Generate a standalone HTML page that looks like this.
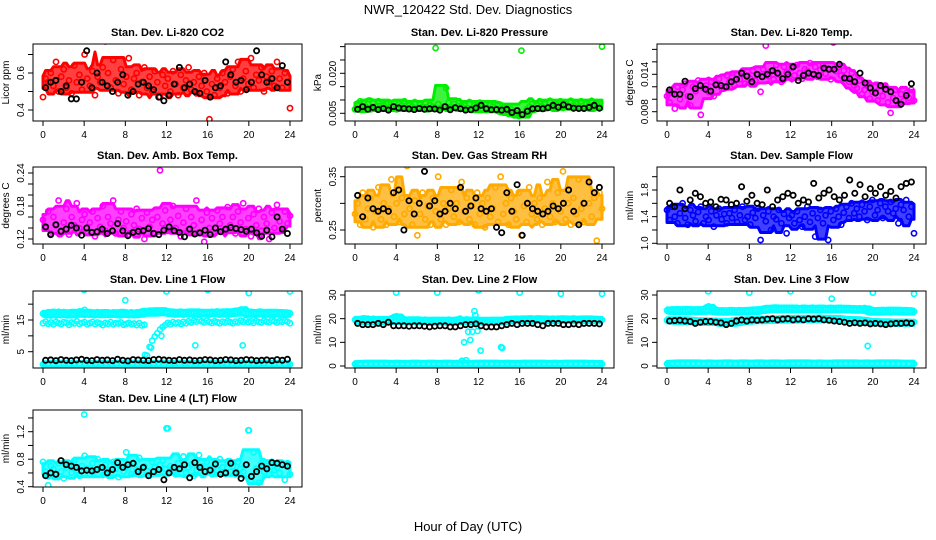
<!DOCTYPE html>
<html><head><meta charset="utf-8">
<style>
html,body{margin:0;padding:0;background:#fff;}
svg{display:block;font-family:"Liberation Sans",sans-serif;}
</style></head>
<body>
<svg id="chart" width="936" height="540" viewBox="0 0 936 540" xmlns="http://www.w3.org/2000/svg">
<rect width="936" height="540" fill="#fff"/>
<text x="468" y="14" text-anchor="middle" font-size="13">NWR_120422 Std. Dev. Diagnostics</text>
<text x="468" y="531" text-anchor="middle" font-size="13">Hour of Day (UTC)</text>
</svg>
<script>
const xTicks = [0,4,8,12,16,20,24];
const co2Red = [0.47,0.57,0.55,0.60,0.53,0.66,0.50,0.58,0.62,0.52,0.56,0.49,0.64,0.55,0.59,0.51,0.70,0.57,0.53,0.61,0.48,0.58,0.55,0.63,0.77,0.60,0.52,0.67,0.56,0.49,0.62,0.54,0.58,0.68,0.51,0.57,0.60,0.48,0.55,0.63,0.52,0.58,0.50,0.61,0.55,0.47,0.59,0.53,0.57,0.50,0.61,0.54,0.48,0.59,0.52,0.56,0.63,0.51,0.55,0.49,0.58,0.53,0.60,0.50,0.35,0.54,0.48,0.57,0.52,0.60,0.55,0.49,0.58,0.62,0.53,0.66,0.50,0.57,0.61,0.54,0.68,0.52,0.59,0.56,0.63,0.50,0.58,0.55,0.61,0.53,0.66,0.57,0.52,0.60,0.55,0.41];
const co2Black = [0.52,0.55,0.56,0.50,0.53,0.46,0.46,0.55,0.72,0.52,0.60,0.55,0.53,0.50,0.55,0.59,0.48,0.50,0.54,0.55,0.53,0.51,0.47,0.45,0.48,0.54,0.63,0.52,0.54,0.50,0.49,0.56,0.47,0.52,0.53,0.66,0.59,0.55,0.56,0.51,0.55,0.72,0.59,0.55,0.57,0.52,0.64,0.55];
const presGreen = [0.0065,0.008,0.0095,0.007,0.0075,0.0085,0.0065,0.009,0.0075,0.0095,0.007,0.008,0.0085,0.007,0.0075,0.009,0.0065,0.0085,0.008,0.0095,0.007,0.008,0.0075,0.0085,0.007,0.0085,0.0075,0.009,0.0065,0.008,0.0075,0.0295,0.0085,0.007,0.0075,0.0145,0.009,0.0075,0.0085,0.007,0.0095,0.0075,0.008,0.007,0.0085,0.0065,0.008,0.0075,0.009,0.0065,0.0085,0.007,0.008,0.0075,0.0065,0.0085,0.0055,0.007,0.0075,0.006,0.0065,0.0055,0.005,0.004,0.0285,0.0045,0.0065,0.0075,0.0085,0.007,0.008,0.0095,0.0075,0.0085,0.007,0.009,0.0075,0.0085,0.008,0.0095,0.007,0.0085,0.0075,0.009,0.008,0.0085,0.0075,0.0095,0.007,0.0085,0.008,0.009,0.0075,0.0085,0.007,0.030];
const presBlack = [0.0065,0.0075,0.0065,0.0072,0.0064,0.0068,0.0062,0.0075,0.007,0.0068,0.0066,0.0064,0.0068,0.0065,0.0067,0.0066,0.0062,0.0075,0.0063,0.0071,0.0067,0.0062,0.0063,0.0070,0.0080,0.0067,0.0063,0.0064,0.0062,0.0065,0.0053,0.0060,0.0045,0.0058,0.0067,0.0068,0.0067,0.0071,0.0080,0.0073,0.0082,0.0074,0.0069,0.0068,0.0068,0.0072,0.0080,0.0069];
const tempMag = [0.0105,0.0095,0.011,0.0085,0.012,0.010,0.0115,0.0125,0.0105,0.009,0.012,0.0113,0.013,0.0075,0.0118,0.0122,0.0112,0.0128,0.0105,0.0125,0.0133,0.0118,0.012,0.0138,0.0128,0.0135,0.0122,0.014,0.0132,0.0145,0.0125,0.0138,0.0133,0.0146,0.013,0.014,0.0112,0.0148,0.0186,0.0137,0.0145,0.0132,0.0155,0.014,0.0128,0.0152,0.0143,0.0136,0.015,0.0138,0.0155,0.0142,0.0133,0.0148,0.0145,0.0158,0.014,0.0152,0.0136,0.0147,0.0155,0.0141,0.0149,0.0132,0.0191,0.0145,0.0152,0.0138,0.0146,0.0133,0.0128,0.0142,0.0122,0.0118,0.013,0.0108,0.0115,0.0125,0.0101,0.0112,0.012,0.0098,0.0113,0.0105,0.0122,0.0095,0.0078,0.0102,0.0115,0.0092,0.0108,0.0097,0.011,0.0102,0.0115,0.0098];
const tempBlack = [0.0115,0.0108,0.0108,0.0129,0.0104,0.0117,0.0122,0.0116,0.0113,0.0123,0.0122,0.0120,0.0128,0.0132,0.0142,0.0137,0.0128,0.0140,0.0136,0.0140,0.0146,0.0142,0.0133,0.0140,0.0152,0.0130,0.0138,0.0142,0.0140,0.0138,0.0150,0.0148,0.0148,0.0156,0.0134,0.0133,0.0128,0.0142,0.0126,0.0118,0.0110,0.0122,0.0116,0.0112,0.0098,0.0092,0.0106,0.0125];
const ambMag = [0.155,0.14,0.17,0.13,0.16,0.145,0.19,0.135,0.15,0.175,0.128,0.16,0.145,0.185,0.14,0.155,0.165,0.132,0.15,0.17,0.125,0.158,0.142,0.18,0.135,0.16,0.148,0.19,0.13,0.155,0.17,0.14,0.152,0.128,0.165,0.145,0.175,0.138,0.158,0.12,0.168,0.142,0.155,0.13,0.16,0.245,0.148,0.172,0.135,0.155,0.18,0.14,0.162,0.125,0.15,0.175,0.138,0.16,0.145,0.19,0.132,0.155,0.115,0.168,0.14,0.158,0.13,0.172,0.148,0.16,0.136,0.178,0.145,0.16,0.13,0.17,0.15,0.185,0.138,0.158,0.125,0.165,0.145,0.175,0.135,0.16,0.148,0.12,0.168,0.14,0.182,0.152,0.135,0.17,0.148,0.162];
const ambBlack = [0.142,0.128,0.146,0.134,0.138,0.145,0.140,0.127,0.140,0.132,0.133,0.138,0.130,0.135,0.148,0.135,0.126,0.132,0.134,0.135,0.139,0.130,0.128,0.136,0.142,0.135,0.132,0.124,0.138,0.129,0.131,0.136,0.128,0.140,0.133,0.138,0.141,0.139,0.137,0.134,0.138,0.131,0.125,0.136,0.124,0.160,0.138,0.130];
const rhOrange = [0.28,0.30,0.26,0.32,0.27,0.29,0.31,0.255,0.285,0.33,0.27,0.30,0.26,0.29,0.345,0.275,0.30,0.265,0.31,0.28,0.37,0.29,0.26,0.305,0.24,0.28,0.32,0.27,0.295,0.26,0.31,0.285,0.35,0.27,0.30,0.26,0.29,0.325,0.275,0.30,0.265,0.34,0.285,0.31,0.27,0.295,0.26,0.32,0.28,0.30,0.255,0.31,0.275,0.29,0.33,0.265,0.35,0.28,0.30,0.26,0.31,0.285,0.27,0.32,0.24,0.295,0.265,0.33,0.28,0.30,0.27,0.31,0.26,0.29,0.34,0.275,0.30,0.265,0.32,0.285,0.36,0.27,0.30,0.26,0.31,0.28,0.345,0.29,0.265,0.38,0.30,0.275,0.31,0.23,0.32,0.29];
const rhBlack = [0.315,0.275,0.31,0.29,0.285,0.29,0.285,0.32,0.325,0.25,0.305,0.28,0.30,0.36,0.295,0.305,0.28,0.285,0.30,0.29,0.33,0.285,0.295,0.31,0.29,0.285,0.29,0.255,0.245,0.32,0.285,0.335,0.24,0.30,0.29,0.285,0.28,0.285,0.295,0.29,0.30,0.325,0.285,0.26,0.30,0.34,0.32,0.33];
const flowBlue = [1.5,1.35,1.55,1.4,1.3,1.45,1.6,1.38,1.28,1.5,1.42,1.33,1.47,1.55,1.3,1.4,1.35,1.48,1.25,1.42,1.52,1.36,1.44,1.3,1.45,1.38,1.5,1.32,1.42,1.55,1.35,1.4,1.28,1.46,1.38,1.52,1.05,1.42,1.33,1.48,1.2,1.4,1.36,1.5,1.3,1.44,1.15,1.38,1.42,1.3,1.48,1.35,1.25,1.4,1.55,1.32,1.45,1.1,1.38,1.5,1.3,1.42,1.05,1.48,1.35,1.52,1.4,1.28,1.46,1.55,1.38,1.6,1.45,1.52,1.4,1.58,1.48,1.35,1.55,1.65,1.42,1.5,1.6,1.38,1.55,1.48,1.62,1.45,1.52,1.3,1.58,1.5,1.65,1.4,1.55,1.15];
const flowBlack = [1.6,1.55,1.8,1.52,1.65,1.75,1.7,1.6,1.62,1.55,1.66,1.65,1.58,1.6,1.85,1.63,1.72,1.6,1.58,1.8,1.55,1.65,1.7,1.75,1.72,1.6,1.65,1.62,1.9,1.68,1.75,1.8,1.7,1.65,1.72,1.95,1.75,1.88,1.7,1.82,1.75,1.85,1.72,1.78,1.68,1.85,1.9,1.92];
const l1Upper = [17.0,16.6,17.4,16.8,17.2,16.5,17.6,16.9,17.1,16.7,17.3,16.6,17.0,17.5,16.8,17.2,18.2,17.0,16.7,17.3,16.9,17.1,16.6,17.4,16.8,17.2,16.9,17.0,16.6,17.3,17.1,16.7,17.4,16.9,17.0,16.5,17.2,16.8,17.5,17.0,17.6,17.9,17.3,17.7,17.2,17.8,18.0,17.4,17.6,17.2,17.0,17.4,16.9,17.3,17.1,17.5,16.8,17.2,17.4,17.0,17.6,17.1,16.9,17.3,17.2,17.6,16.9,17.3,17.1,17.5,16.8,17.4,17.0,17.7,17.2,17.5,18.1,17.3,18.3,17.0,16.8,17.2,17.4,16.9,17.1,17.5,17.0,16.8,17.3,17.1,17.4,16.9,17.2,17.0,16.7,17.1];
const l1Lower = [14.0,14.5,13.8,14.2,13.6,14.4,14.0,13.7,14.3,14.1,13.5,14.2,13.9,14.6,13.8,14.1,14.3,13.6,14.0,14.4,13.7,14.2,13.9,13.4,14.1,13.8,14.3,13.6,14.0,13.9,14.2,13.5,13.8,14.1,13.6,13.9,13.4,14.0,13.3,13.5,3.8,6.5,8.5,9.8,10.8,12.0,12.8,13.4,14.1,13.6,14.3,13.9,14.2,13.7,14.4,14.0,14.6,14.2,14.8,14.5,15.0,14.6,14.2,14.8,14.4,14.1,14.6,14.3,14.0,14.5,14.2,14.7,14.3,14.0,14.5,14.2,14.8,14.4,15.0,14.3,14.6,14.1,14.7,14.4,14.2,14.8,14.5,14.3,14.9,14.6,14.2,14.7,14.4,14.8,14.5,14.0];
const l1Base = [1.0,1.2,0.9,1.1,1.3,1.0,1.2,0.9,1.1,1.0,1.3,1.1,0.9,1.2,1.0,1.1,1.3,1.0,0.9,1.2,1.1,1.0,1.2,0.9,1.1,1.3,1.0,1.2,0.9,1.1,1.0,1.2,1.1,0.9,1.3,1.0,1.2,1.1,0.9,1.0,1.2,1.1,1.3,1.0,0.9,1.2,1.1,1.0];
const l1Black = [2.3,2.4,2.2,2.5,2.3,2.2,2.4,2.6,2.3,2.2,2.5,2.3,2.4,2.2,2.6,2.3,2.1,2.5,2.4,2.3,2.2,2.5,2.6,2.4,2.3,2.2,2.5,2.3,2.4,2.2,2.3,2.5,2.4,2.2,2.3,2.5,2.4,2.2,2.3,2.5,2.4,2.2,2.3,2.4,2.2,2.5,2.3,2.6];
const l1OutHour = [4,8,12,16,20,24,10.5,11.5,14.8,19.4,9.9];
const l1OutVal = [24.5,21.2,24.0,24.5,23.5,24.0,6.3,10.0,7.0,7.0,4.0];
const l2Upper = [19.5,18.6,19.8,18.9,19.3,20.0,18.7,19.4,19.1,19.7,18.8,19.5,19.2,18.6,19.9,19.0,21.0,20.5,19.2,18.8,19.5,19.0,18.7,19.3,18.9,19.4,18.6,19.1,18.8,19.3,18.7,19.0,19.2,18.6,19.4,18.9,19.1,18.7,19.3,18.8,19.0,19.5,18.9,19.2,18.6,19.4,19.0,18.8,19.3,18.7,19.1,18.6,19.0,19.4,18.8,19.2,19.0,18.6,19.5,19.1,19.8,19.3,19.6,19.0,19.7,19.4,19.9,19.2,19.6,19.8,19.1,19.5,19.9,19.3,19.7,19.0,19.6,19.4,19.8,19.2,19.7,19.5,19.9,19.1,19.6,19.3,19.8,19.5,19.2,19.7,19.4,19.9,19.3,19.6,19.0,19.5];
const l2Black = [18.0,17.5,17.5,17.5,18.0,17.5,18.5,17.0,17.0,17.0,16.8,17.0,17.0,16.8,16.5,16.8,17.0,17.0,16.5,16.5,17.0,17.5,17.5,17.8,17.0,16.5,16.5,16.5,17.0,17.5,18.0,17.5,18.0,18.0,18.0,17.5,17.0,18.0,18.0,18.0,17.5,17.5,17.8,17.5,18.0,18.0,18.0,17.8];
const l2Base = [0.8,1.0,0.7,0.9,1.1,0.8,1.0,0.7,0.9,0.8,1.1,0.9,0.7,1.0,0.8,0.9,1.1,0.8,0.7,1.0,0.9,0.8,1.0,0.7,0.9,1.1,0.8,1.0,0.7,0.9,0.8,1.0,0.9,0.7,1.1,0.8,1.0,0.9,0.7,0.8,1.0,0.9,1.1,0.8,0.7,1.0,0.9,0.8];
const l2OutHour = [4,8,12,16,20,24,10.4,10.6,10.8,11.0,11.2,11.4,11.6,11.7,11.9,12.2,14.2,14.3,10.2];
const l2OutVal = [31,31,32,31,30.5,30.5,2.2,10,2.4,14.5,11,14.5,23.2,21.5,14.8,6.5,8,7.6,20];
const l3Upper = [23.5,23.1,23.8,23.3,23.6,23.0,23.7,23.2,23.5,23.9,23.1,23.4,23.6,23.0,23.8,23.3,25.2,24.5,23.4,23.0,23.2,22.8,23.0,23.3,22.9,23.1,23.4,23.0,23.2,22.8,23.3,23.1,23.5,23.0,23.4,23.7,23.2,23.6,23.9,24.2,24.5,24.1,23.8,24.4,24.0,24.3,23.9,24.2,24.6,24.0,23.8,24.3,24.1,23.9,24.4,24.0,24.2,23.8,24.5,24.1,23.9,24.3,24.0,24.2,23.8,24.4,24.1,23.9,24.3,24.0,24.2,23.7,24.1,23.8,24.0,23.6,24.3,23.9,22.8,23.2,22.9,23.4,23.0,23.3,22.8,23.5,23.1,23.4,22.9,23.2,23.6,23.0,23.3,22.9,23.2,23.0];
const l3Mid = [19.3,19.0,19.4,19.1,18.9,19.3,18.5,18.8,18.6,18.9,18.7,18.2,18.0,18.5,19.1,19.3,19.0,19.4,19.6,19.3,19.7,19.5,19.9,19.6,20.0,19.8,19.6,20.1,19.8,20.0,19.7,20.2,19.9,19.5,19.6,19.3,19.4,19.0,18.7,18.4,18.6,18.3,18.5,18.2,18.4,18.1,18.3,18.5];
const l3Black = [19.0,19.2,19.3,19.0,18.8,18.0,18.5,18.8,18.8,18.5,18.2,17.5,18.0,19.0,19.5,19.0,19.5,19.3,19.5,19.8,20.0,19.5,19.8,20.0,19.5,19.8,19.5,20.0,19.8,20.0,19.5,19.3,19.0,18.8,18.5,18.0,18.3,18.0,18.2,17.8,18.0,17.8,17.5,17.8,18.0,18.0,18.2,18.0];
const l3Base = [0.9,1.1,0.8,1.0,1.2,0.9,1.1,0.8,1.0,0.9,1.2,1.0,0.8,1.1,0.9,1.0,1.2,0.9,0.8,1.1,1.0,0.9,1.1,0.8,1.0,1.2,0.9,1.1,0.8,1.0,0.9,1.1,1.0,0.8,1.2,0.9,1.1,1.0,0.8,0.9,1.1,1.0,1.2,0.9,0.8,1.1,1.0,0.9];
const l3OutHour = [4,8,12,16,19.5,20,24,19.2];
const l3OutVal = [31.5,31,31.5,28.5,8.5,31,30.5,24.5];
const l4Cyan = [0.76,0.62,0.55,0.70,0.66,0.58,0.74,0.62,0.52,0.68,0.72,0.60,0.78,0.64,0.56,0.70,0.85,0.66,0.58,0.74,0.62,0.80,0.68,0.57,0.72,0.64,0.60,0.76,0.66,0.54,0.70,0.62,0.90,0.68,0.58,0.74,0.65,0.82,0.60,0.70,0.63,0.56,0.76,0.68,0.60,0.72,0.78,0.66,1.25,0.70,0.62,0.58,0.74,0.66,0.84,0.60,0.68,0.72,0.56,0.64,0.86,0.70,0.62,0.76,0.66,0.58,0.72,0.64,0.80,0.68,0.60,0.74,0.62,0.70,0.58,0.76,0.66,0.62,0.72,1.22,0.48,0.90,0.66,0.46,0.74,0.62,0.70,0.58,0.76,0.64,0.68,0.60,0.72,0.50,0.74,0.58];
const l4Black = [0.56,0.60,0.58,0.78,0.72,0.70,0.68,0.63,0.64,0.63,0.65,0.68,0.60,0.65,0.75,0.68,0.72,0.74,0.62,0.68,0.56,0.62,0.65,0.50,0.60,0.68,0.66,0.72,0.53,0.75,0.68,0.62,0.64,0.73,0.58,0.60,0.74,0.60,0.52,0.72,0.55,0.62,0.70,0.66,0.75,0.74,0.72,0.70];
const l4OutHour = [4,12,20,0.5];
const l4OutVal = [1.45,1.25,1.22,0.42];

const svg = document.getElementById('chart');
const NS = 'http://www.w3.org/2000/svg';
function mk(tag, attrs, parent){ const e=document.createElementNS(NS,tag); for(const k in attrs) e.setAttribute(k,attrs[k]); (parent||svg).appendChild(e); return e; }

const colL=[33,345,657], rowT=[44,167,291,410];
const W=269, H=77;
function xScale(L){ return v => L+10+v*(247/24); }
function yScale(v1,y1,v2,y2){ return v => y1+(v-v1)*(y2-y1)/(v2-v1); }

function panel(cfg){
  const L=colL[cfg.col], T=rowT[cfg.row];
  const g=mk('g',{});
  
  
  const x=xScale(L);
  const y=yScale(cfg.r[0],cfg.r[1],cfg.r[2],cfg.r[3]);
  const t=mk('text',{x:L+W/2,y:T-8,'text-anchor':'middle','font-size':11,'font-weight':'bold'},g);
  t.textContent=cfg.title;
  
  
  const clipId='c'+cfg.col+cfg.row;
  const cp=mk('clipPath',{id:clipId},g); mk('rect',{x:L,y:T,width:W,height:H},cp);
  const pts=mk('g',{'clip-path':'url(#'+clipId+')'},g);
  cfg.series.forEach(s=>{
    const n=s.vals.length;
    const hourOf = i => s.hours ? s.hours[i] : (s.black ? 0.25+i*23.5/(n-1) : i*24/(n-1));
    if(s.band){
      // dense-cloud envelope derived from the series values (trimmed rolling range)
      const w=s.band, up=[], lo=[];
      for(let i=0;i<n;i++){
        const win=[]; for(let j=Math.max(0,i-w);j<=Math.min(n-1,i+w);j++) win.push(s.vals[j]);
        win.sort((a,b)=>a-b);
        const k=1;
        up.push([x(hourOf(i)), y(win[win.length-1-k])-2.5]);
        lo.push([x(hourOf(i)), y(win[k])+2.5]);
      }
      const ptsStr=up.concat(lo.reverse()).map(p=>p[0].toFixed(1)+','+p[1].toFixed(1)).join(' ');
      const poly=mk('polygon',{points:ptsStr,fill:s.color,'fill-opacity':0.75,stroke:s.color,'stroke-width':3,'stroke-linejoin':'round'},pts);
      
      
    }
    const sg=mk('g',{fill:'none',stroke:s.color,'stroke-width':s.black?1.8:1.6},pts);
    
    
    s.vals.forEach((v,i)=>{
      const c=mk('circle',{cx:x(hourOf(i)).toFixed(1),cy:y(v).toFixed(1),r:2.6},sg);
      
      
    });
  });
  const box=mk('rect',{x:L,y:T,width:W,height:H,fill:'none',stroke:'#000','stroke-width':1},g);
  
  
  const xa=mk('g',{},g);
  
  
  mk('line',{x1:x(0),x2:x(24),y1:T+H,y2:T+H,stroke:'#000'},xa);
  xTicks.forEach(v=>{
    mk('line',{x1:x(v),x2:x(v),y1:T+H,y2:T+H+5,stroke:'#000'},xa);
    const tl=mk('text',{x:x(v),y:T+H+17,'text-anchor':'middle','font-size':10},xa);
    tl.textContent=v;
  });
  const ya=mk('g',{},g);
  
  
  const tk=cfg.ticks;
  mk('line',{x1:L,x2:L,y1:y(tk[0]),y2:y(tk[tk.length-1]),stroke:'#000'},ya);
  tk.forEach(v=>{
    const yy=y(v);
    mk('line',{x1:L-5,x2:L,y1:yy,y2:yy,stroke:'#000'},ya);
  });
  cfg.labels.forEach(v=>{
    const yy=y(v);
    const tl=mk('text',{x:L-9,y:yy,'text-anchor':'middle','font-size':10,transform:'rotate(-90 '+(L-9)+' '+yy+')'},ya);
    tl.textContent=cfg.fmt(v);
  });
  const yt=mk('text',{x:L-24,y:T+H/2,'text-anchor':'middle','font-size':10,transform:'rotate(-90 '+(L-24)+' '+(T+H/2)+')'},g);
  yt.textContent=cfg.ylab;
  
  
}
const f1=v=>v.toFixed(1), f2=v=>v.toFixed(2), f3=v=>v.toFixed(3), f0=v=>String(v);
const BK='#000';
panel({name:'panel-co2',col:0,row:0,title:'Stan. Dev. Li-820 CO2',ylab:'Licor ppm',r:[0.4,110,0.6,73],ticks:[0.4,0.5,0.6,0.7],labels:[0.4,0.6],fmt:f1,
  series:[{name:'co2-red',color:'#ff0000',vals:co2Red,band:4},{name:'co2-black',color:BK,black:1,vals:co2Black}]});
panel({name:'panel-pressure',col:1,row:0,title:'Stan. Dev. Li-820 Pressure',ylab:'kPa',r:[0.005,113.3,0.020,73.3],ticks:[0.005,0.01,0.015,0.02,0.025,0.03],labels:[0.005,0.02],fmt:f3,
  series:[{name:'pressure-green',color:'#00ee00',vals:presGreen,band:4},{name:'pressure-black',color:BK,black:1,vals:presBlack}]});
panel({name:'panel-temp',col:2,row:0,title:'Stan. Dev. Li-820 Temp.',ylab:'degrees C',r:[0.008,111.7,0.014,74.3],ticks:[0.008,0.01,0.012,0.014,0.016,0.018],labels:[0.008,0.014],fmt:f3,
  series:[{name:'temp-magenta',color:'#ff00ff',vals:tempMag,band:4},{name:'temp-black',color:BK,black:1,vals:tempBlack}]});
panel({name:'panel-amb-box',col:0,row:1,title:'Stan. Dev. Amb. Box Temp.',ylab:'degrees C',r:[0.12,239,0.24,173],ticks:[0.12,0.14,0.16,0.18,0.2,0.22,0.24],labels:[0.12,0.18,0.24],fmt:f2,
  series:[{name:'amb-magenta',color:'#ff00ff',vals:ambMag,band:4},{name:'amb-black',color:BK,black:1,vals:ambBlack}]});
panel({name:'panel-rh',col:1,row:1,title:'Stan. Dev. Gas Stream RH',ylab:'percent',r:[0.25,230,0.35,176.7],ticks:[0.25,0.3,0.35],labels:[0.25,0.35],fmt:f2,
  series:[{name:'rh-orange',color:'#ffaa00',vals:rhOrange,band:4},{name:'rh-black',color:BK,black:1,vals:rhBlack}]});
panel({name:'panel-sample-flow',col:2,row:1,title:'Stan. Dev. Sample Flow',ylab:'ml/min',r:[1.0,243.3,2.0,176.7],ticks:[1.0,1.2,1.4,1.6,1.8,2.0],labels:[1.0,1.4,1.8],fmt:f1,
  series:[{name:'flow-blue',color:'#0000ff',vals:flowBlue,band:4},{name:'flow-black',color:BK,black:1,vals:flowBlack}]});
panel({name:'panel-line1',col:0,row:2,title:'Stan. Dev. Line 1 Flow',ylab:'ml/min',r:[5,351.7,15,320],ticks:[5,10,15,20],labels:[5,15],fmt:f0,
  series:[{name:'line1-upper',color:'#00ffff',vals:l1Upper,band:2},{name:'line1-lower',color:'#00ffff',vals:l1Lower},{name:'line1-base',color:'#00ffff',vals:l1Base,band:2},
          {name:'line1-outliers',color:'#00ffff',vals:l1OutVal,hours:l1OutHour},{name:'line1-black',color:BK,black:1,vals:l1Black}]});
panel({name:'panel-line2',col:1,row:2,title:'Stan. Dev. Line 2 Flow',ylab:'ml/min',r:[0,366,30,295],ticks:[0,10,20,30],labels:[0,10,20,30],fmt:f0,
  series:[{name:'line2-upper',color:'#00ffff',vals:l2Upper,band:2},{name:'line2-base',color:'#00ffff',vals:l2Base,band:2},
          {name:'line2-outliers',color:'#00ffff',vals:l2OutVal,hours:l2OutHour},{name:'line2-black',color:BK,black:1,vals:l2Black}]});
panel({name:'panel-line3',col:2,row:2,title:'Stan. Dev. Line 3 Flow',ylab:'ml/min',r:[0,366,30,295],ticks:[0,10,20,30],labels:[0,10,20,30],fmt:f0,
  series:[{name:'line3-upper',color:'#00ffff',vals:l3Upper,band:2},{name:'line3-mid',color:'#00ffff',vals:l3Mid,band:2},{name:'line3-base',color:'#00ffff',vals:l3Base,band:2},
          {name:'line3-outliers',color:'#00ffff',vals:l3OutVal,hours:l3OutHour},{name:'line3-black',color:BK,black:1,vals:l3Black}]});
panel({name:'panel-line4',col:0,row:3,title:'Stan. Dev. Line 4 (LT) Flow',ylab:'ml/min',r:[0.4,486.7,1.2,431.7],ticks:[0.4,0.6,0.8,1.0,1.2,1.4],labels:[0.4,0.8,1.2],fmt:f1,
  series:[{name:'line4-cyan',color:'#00ffff',vals:l4Cyan,band:4},{name:'line4-outliers',color:'#00ffff',vals:l4OutVal,hours:l4OutHour},{name:'line4-black',color:BK,black:1,vals:l4Black}]});
</script>
</body></html>
